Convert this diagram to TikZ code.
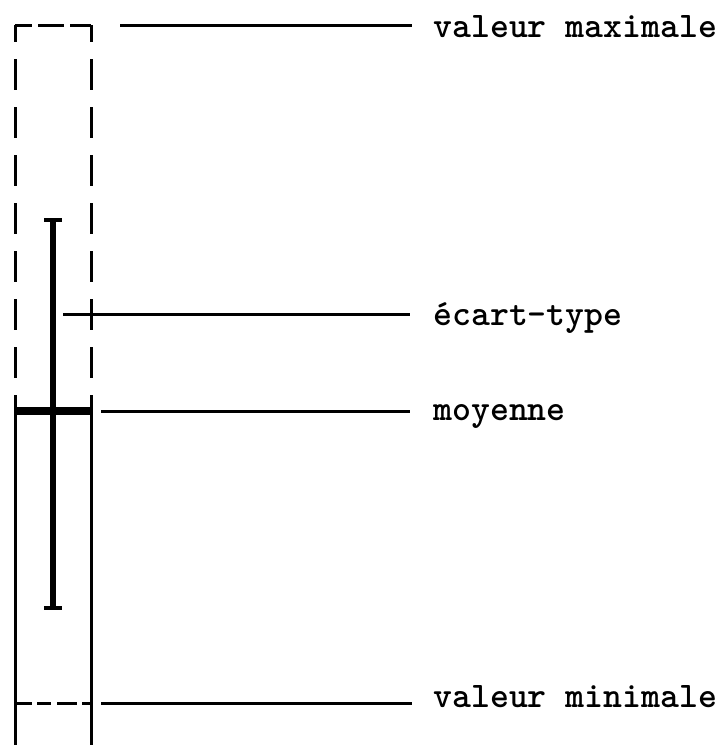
\documentclass[tikz,border=0pt]{standalone}
\usepackage{fontspec}
\begin{document}
\begin{tikzpicture}[x=0.5bp,y=-0.5bp,
  thin line/.style={line width=1.5bp,line cap=butt},
  vdash/.style={thin line,dash pattern=on 15.5bp off 8.5bp,dash phase=7bp},
  hdash/.style={thin line,dash pattern=on 8.5bp off 3bp on 13bp off 3bp on 20bp},
  bdash/.style={thin line,dash pattern=on 8.5bp off 2.5bp on 7bp off 3bp on 10bp off 2.5bp on 10bp},
  errbar/.style={line width=2.8bp},
  errcap/.style={line width=2.2bp},
  meanbar/.style={line width=4bp},
  lab/.style={anchor=base west,inner sep=0pt,font=\ttfamily\bfseries\fontsize{18bp}{20bp}\selectfont}]
\useasboundingbox (0,0) rectangle (727,745);
% box corners
\coordinate (tl) at (15,25);
\coordinate (tr) at (91,25);
\coordinate (ml) at (14,411);
\coordinate (mr) at (91,411);
\coordinate (bl) at (15,745);
\coordinate (br) at (91,745);
\coordinate (nl) at (15,703);
\coordinate (nr) at (91,703);
% dashed upper part of box
\draw[vdash] (tl) -- (tl |- ml);
\draw[vdash] (tr) -- (tr |- mr);
\draw[hdash] (tl) -- (tr);
% solid lower part
\draw[thin line] (tl |- ml) -- (bl);
\draw[thin line] (tr |- mr) -- (br);
% minimum dashed line
\draw[bdash] (nl) -- (nr);
% mean bar
\draw[meanbar] (ml) -- (mr);
% error bar
\coordinate (et) at (53,220);
\coordinate (eb) at (53,608);
\draw[errbar] (et) -- (eb);
\draw[errcap] (44,220) -- (62,220);
\draw[errcap] (44,608) -- (62,608);
% labels
\node[lab] (lmax) at (433,37) {valeur maximale};
\node[lab] (lsd) at (433,325) {écart-type};
\node[lab] (lmean) at (433,420) {moyenne};
\node[lab] (lmin) at (433,707) {valeur minimale};
% leader lines
\coordinate (smax) at (120,25);
\coordinate (emax) at (412,25);
\coordinate (ssd) at (63,314);
\coordinate (esd) at (410,314);
\coordinate (smean) at (101,411);
\coordinate (emean) at (410,411);
\coordinate (smin) at (101,703);
\coordinate (emin) at (412,703);
\draw[thin line] (smax) -- (emax);
\draw[thin line] (ssd) -- (esd);
\draw[thin line] (smean) -- (emean);
\draw[thin line] (smin) -- (emin);
\end{tikzpicture}
\end{document}
